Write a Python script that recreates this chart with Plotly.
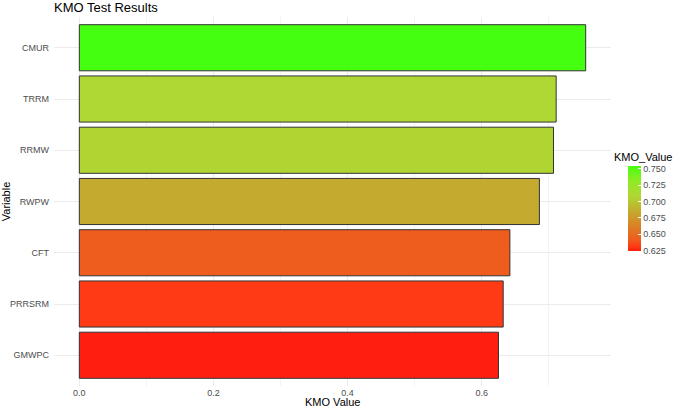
"""
KMO test results as a horizontal bar chart, bars filled by their own value
on a red-to-green gradient (ggplot theme_minimal look).
"""

import plotly.graph_objects as go


variables = ['CMUR', 'TRRM', 'RRMW', 'RWPW', 'CFT', 'PRRSRM', 'GMWPC']
kmo_values = [0.755, 0.711, 0.707, 0.686, 0.642, 0.632, 0.625]
legend_ticks = [0.625, 0.650, 0.675, 0.700, 0.725, 0.750]
x_ticks = [0.0, 0.2, 0.4, 0.6]

# gradient stops (value, colour) as seen on the bars and the legend
gradient_values = [0.625, 0.632, 0.642, 0.686, 0.707, 0.711, 0.735, 0.755]
gradient_colors = ['#ff1e10', '#ff3a14', '#ee5c1e', '#c4aa2e',
                   '#b0d432', '#afd834', '#88ee22', '#45ff10']

v_lo, v_hi = min(kmo_values), max(kmo_values)
colorscale = [[(v - v_lo) / (v_hi - v_lo), c]
              for v, c in zip(gradient_values, gradient_colors)]

fig = go.Figure(go.Bar(
    x=kmo_values,
    y=variables,
    orientation='h',
    width=0.9,
    marker=dict(
        color=kmo_values,
        colorscale=colorscale,
        cmin=v_lo,
        cmax=v_hi,
        line=dict(color='#333333', width=1),
        colorbar=dict(
            tickvals=legend_ticks,
            tickformat='.3f',
            tickfont=dict(size=9, color='#4d4d4d'),
            ticks='inside',
            tickcolor='white',
            ticklen=3,
            thickness=13,
            lenmode='pixels',
            len=85,
            x=1.03,
            xanchor='left',
            y=0.482,
            yanchor='middle',
            outlinewidth=0,
            xpad=0,
            ypad=0,
        ),
    ),
    hovertemplate='%{y}: %{x:.3f}<extra></extra>',
))

fig.update_xaxes(
    range=[-0.05 * v_hi, 1.05 * v_hi],
    tickvals=x_ticks,
    tickformat='.1f',
    tickfont=dict(size=9, color='#4d4d4d'),
    showgrid=True,
    gridcolor='#ebebeb',
    gridwidth=1,
    minor=dict(dtick=0.1, tick0=0, showgrid=True, gridcolor='#f3f3f3', gridwidth=0.5),
    zeroline=False,
    showline=False,
    automargin=False,
)
fig.update_yaxes(
    categoryorder='array',
    categoryarray=variables,
    range=[len(variables) - 0.4, -0.6],
    tickfont=dict(size=9, color='#4d4d4d'),
    showgrid=True,
    gridcolor='#ebebeb',
    zeroline=False,
    showline=False,
    ticklabelstandoff=4,
    title=dict(text='Variable', font=dict(size=11, color='#000000'), standoff=1),
    automargin=False,
)

fig.update_layout(
    width=685,
    height=408,
    template='plotly_white',
    plot_bgcolor='white',
    paper_bgcolor='white',
    font=dict(family='Liberation Sans, Arial, sans-serif'),
    title=dict(
        text='KMO Test Results',
        font=dict(size=13, color='#000000'),
        x=54 / 685, xanchor='left', xref='container',
        y=1 - 3 / 408, yanchor='top', yref='container',
        pad=dict(t=0, b=0),
    ),
    annotations=[
        dict(
            text='KMO_Value',
            xref='paper', yref='paper',
            x=1.002, y=(386 - 157) / 369,
            xanchor='left', yanchor='middle',
            showarrow=False,
            font=dict(size=11, color='#000000'),
        ),
        # x-axis title, set just under the tick labels
        dict(
            text='KMO Value',
            xref='paper', yref='paper',
            x=0.5, y=(386 - 401.5) / 369,
            xanchor='center', yanchor='middle',
            showarrow=False,
            borderpad=0,
            font=dict(size=11, color='#000000'),
        ),
    ],
    margin=dict(l=54, r=74, t=17, b=22),
    showlegend=False,
)

# drop the browser's default 8px page margin so the figure sits at the corner
fig.write_html(
    'out.html',
    config={'displayModeBar': False},
    post_script="document.body.style.margin='0';",
)
